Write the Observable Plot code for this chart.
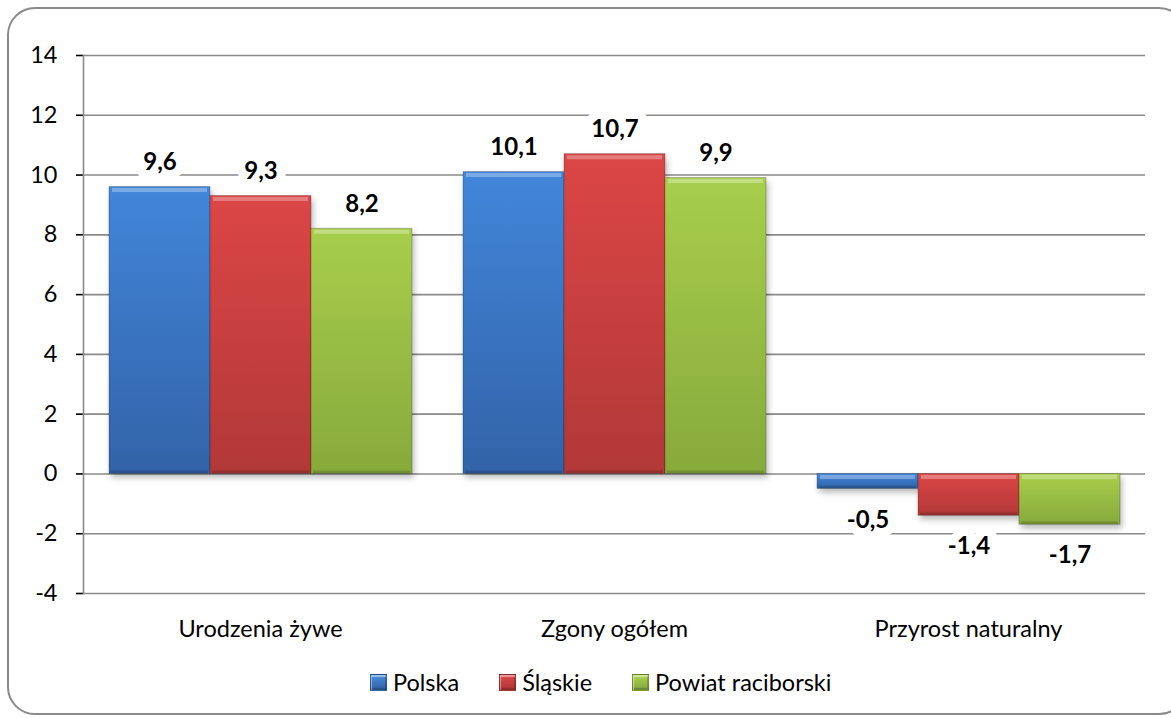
<!DOCTYPE html>
<html>
<head>
<meta charset="utf-8">
<script src="https://cdn.jsdelivr.net/npm/d3@7"></script>
<script src="https://cdn.jsdelivr.net/npm/@observablehq/plot@0.6"></script>
<style>
  html, body { margin: 0; padding: 0; background: #fff; }
  #wrap { position: relative; width: 1171px; height: 718px; overflow: hidden; font-family: Lato, "Open Sans", sans-serif; }
  #border { position: absolute; left: 7px; top: 7px; width: 1180px; height: 708px; border: 2px solid #8a8a8a; border-radius: 28px; box-sizing: border-box; }
  #chart { position: absolute; left: 0; top: 0; }
  #legend { position: absolute; left: 370px; top: 668px; display: flex; align-items: center; font-size: 23.5px; color: #000; }
  .item { display: flex; align-items: center; margin-right: 40px; }
  .sw { width: 17px; height: 17px; margin-right: 6px; box-sizing: border-box; border: 1px solid rgba(0,0,0,0.25); box-shadow: inset 1px 2px 1px rgba(255,255,255,0.45), inset -1px -2px 1px rgba(0,0,0,0.2); }
  g[aria-label="y-axis tick"] { stroke: #8a8a8a; stroke-width: 1.6; }
</style>
</head>
<body>
<svg width="0" height="0" style="position:absolute">
  <defs>
    <linearGradient id="g0" x1="0" y1="0" x2="0" y2="1">
      <stop offset="0" stop-color="#4286DA"/>
      <stop offset="1" stop-color="#3263A8"/>
    </linearGradient>
    <linearGradient id="g1" x1="0" y1="0" x2="0" y2="1">
      <stop offset="0" stop-color="#DC4646"/>
      <stop offset="1" stop-color="#B23838"/>
    </linearGradient>
    <linearGradient id="g2" x1="0" y1="0" x2="0" y2="1">
      <stop offset="0" stop-color="#A8CE4C"/>
      <stop offset="1" stop-color="#87AA3C"/>
    </linearGradient>
  </defs>
</svg>
<div id="wrap">
  <div id="border"></div>
  <div id="chart"></div>
  <div id="legend"></div>
</div>
<script>
const categories = ["Urodzenia żywe", "Zgony ogółem", "Przyrost naturalny"];
const seriesNames = ["Polska", "Śląskie", "Powiat raciborski"];
const polska = [9.6, 10.1, -0.5];
const slaskie = [9.3, 10.7, -1.4];
const powiat = [8.2, 9.9, -1.7];
const yTicks = [-4, -2, 0, 2, 4, 6, 8, 10, 12, 14];
const fills = ["url(#g0)", "url(#g1)", "url(#g2)"];
const swatchColors = [["#4A8EE0", "#2F5FA3"], ["#E04A4A", "#AD3434"], ["#AED451", "#82A53A"]];

const seriesValues = [polska, slaskie, powiat];
const data = categories.flatMap((c, i) =>
  seriesNames.map((s, j) => ({category: c, series: s, value: seriesValues[j][i]}))
);
const fmt = v => v.toFixed(1).replace(".", ",");

const chart = Plot.plot({
  width: 1171,
  height: 660,
  marginLeft: 83,
  marginRight: 26,
  marginTop: 55,
  marginBottom: 67,
  style: {fontFamily: "Lato, 'Open Sans', sans-serif", fontSize: "23.5px", color: "#000", background: "transparent", overflow: "visible"},
  fx: {domain: categories, paddingInner: 0, paddingOuter: 0, axis: "bottom", label: null, tickSize: 0, tickPadding: 27},
  x: {domain: seriesNames, paddingInner: 0, paddingOuter: 0.24, axis: null},
  y: {domain: [-4, 14], ticks: yTicks, tickSize: 7, tickPadding: 19, tickFormat: d => String(d), label: null},
  color: {domain: seriesNames, range: fills},
  marks: [
    Plot.ruleY(yTicks, {stroke: "#8a8a8a", strokeWidth: 1.6}),
    Plot.frame({anchor: "left", facetAnchor: "left", stroke: "#8a8a8a", strokeWidth: 1.6}),
    Plot.barY(data, {fx: "category", x: "series", y: "value", fill: "#000", fillOpacity: 0.28, dx: 2, dy: 4, imageFilter: "blur(3px)"}),
    Plot.barY(data, {fx: "category", x: "series", y: "value", fill: "series", stroke: "rgba(0,0,0,0.22)", strokeWidth: 1}),
    Plot.tickY(data, {fx: "category", x: "series", y: d => Math.max(0, d.value), stroke: "#fff", strokeOpacity: 0.3, strokeWidth: 4, dy: 3, insetLeft: 3, insetRight: 3}),
    Plot.tickY(data, {fx: "category", x: "series", y: d => Math.min(0, d.value), stroke: "#000", strokeOpacity: 0.15, strokeWidth: 3, dy: -2, insetLeft: 2, insetRight: 2}),
    Plot.text(data.filter(d => d.value >= 0), {fx: "category", x: "series", y: "value", text: d => fmt(d.value), dy: -25, fontSize: 24, fontWeight: "bold", fill: "#000", stroke: "#fff", strokeWidth: 18, strokeLinejoin: "round"}),
    Plot.text(data.filter(d => d.value < 0), {fx: "category", x: "series", y: "value", text: d => fmt(d.value), dy: 31, fontSize: 24, fontWeight: "bold", fill: "#000", stroke: "#fff", strokeWidth: 18, strokeLinejoin: "round"})
  ]
});
document.getElementById("chart").appendChild(chart);

const legend = document.getElementById("legend");
seriesNames.forEach((s, i) => {
  const item = document.createElement("div");
  item.className = "item";
  const sw = document.createElement("div");
  sw.className = "sw";
  sw.style.background = `linear-gradient(${swatchColors[i][0]}, ${swatchColors[i][1]})`;
  const label = document.createElement("span");
  label.textContent = s;
  item.appendChild(sw);
  item.appendChild(label);
  legend.appendChild(item);
});
</script>
</body>
</html>
